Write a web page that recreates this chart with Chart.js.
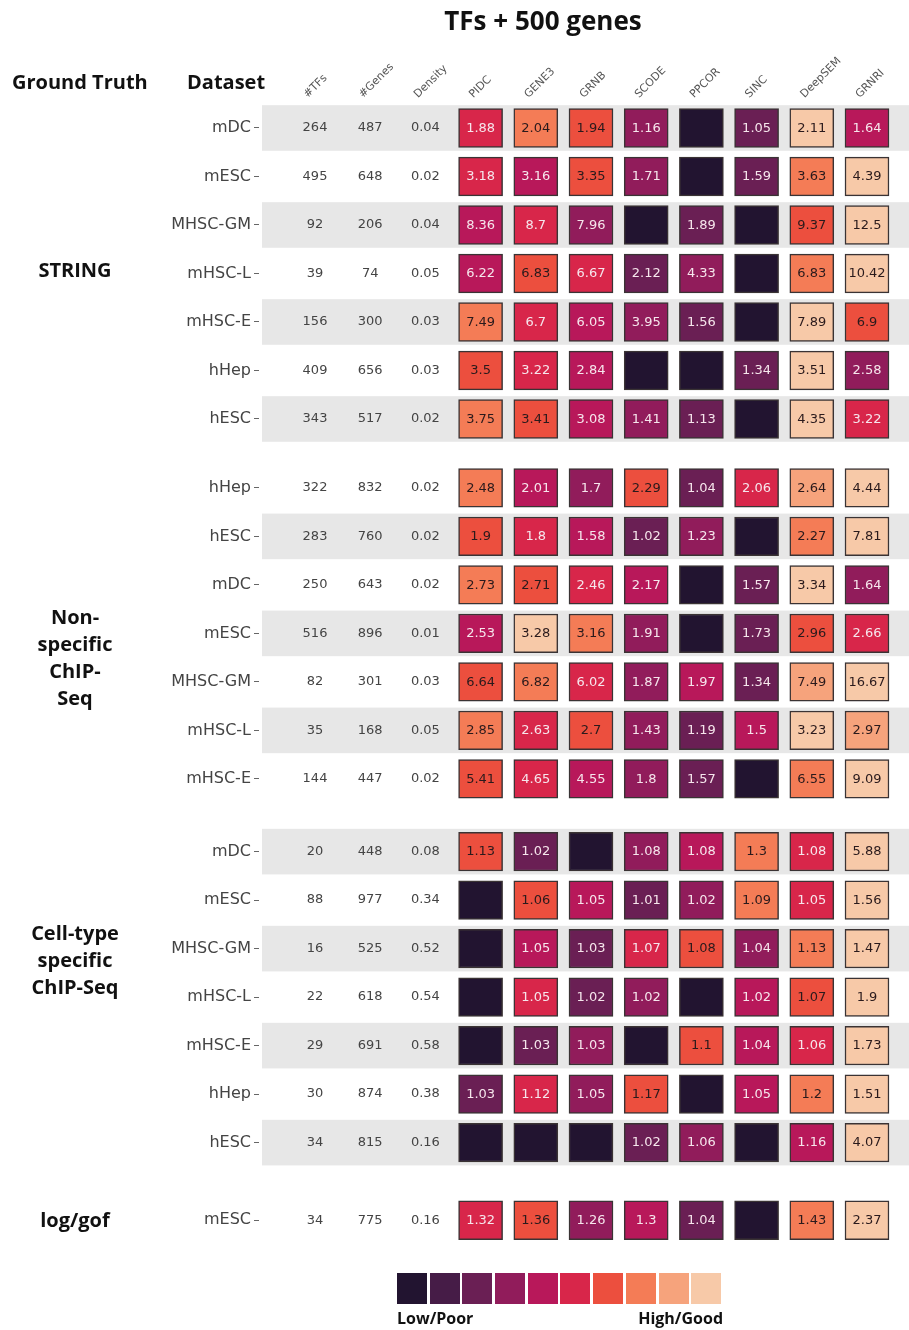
<!DOCTYPE html>
<html>
<head>
<meta charset="utf-8">
<script src="https://cdn.jsdelivr.net/npm/chart.js@4.4.1/dist/chart.umd.min.js"></script>
<style>
html,body{margin:0;padding:0;background:#fff;width:909px;height:1330px;overflow:hidden;}
#wrap{position:absolute;left:0;top:0;width:909px;height:1330px;}
canvas{position:absolute;left:0;top:0;}
.t{position:absolute;font-family:'Open Sans',sans-serif;font-weight:700;color:#111;white-space:nowrap;}
.grp{position:absolute;font-family:'Open Sans',sans-serif;font-weight:700;color:#111;font-size:20px;line-height:27px;text-align:center;width:150px;}
#legend{position:absolute;left:397px;top:1273px;display:flex;gap:2.7px;}
#legend div{width:30px;height:31px;}
</style>
</head>
<body>
<div id="wrap">
<canvas id="c" width="909" height="1330"></canvas>
<div class="t" style="left:393px;width:300px;text-align:center;top:4px;font-size:26px;line-height:32px;">TFs + 500 genes</div>
<div class="t" style="left:12px;top:68px;font-size:20px;line-height:28px;">Ground Truth</div>
<div class="t" style="left:187px;top:68px;font-size:20px;line-height:28px;">Dataset</div>
<div class="grp" style="left:0px;top:256px;">STRING</div>
<div class="grp" style="left:0px;top:603px;">Non-<br>specific<br>ChIP-<br>Seq</div>
<div class="grp" style="left:0px;top:919px;">Cell-type<br>specific<br>ChIP-Seq</div>
<div class="grp" style="left:0px;top:1206px;">log/gof</div>
<div id="legend"></div>
<div class="t" style="left:397px;top:1307px;font-size:16px;line-height:22px;">Low/Poor</div>
<div class="t" style="left:600px;width:123px;text-align:right;top:1307px;font-size:16px;line-height:22px;">High/Good</div>
</div>
<script>
// ---------------- data ----------------
const statCols = ['#TFs', '#Genes', 'Density'];
const methods = ['PIDC', 'GENE3', 'GRNB', 'SCODE', 'PPCOR', 'SINC', 'DeepSEM', 'GRNRI'];
const groups = ['STRING', 'Non-specific ChIP-Seq', 'Cell-type specific ChIP-Seq', 'log/gof'];
const groupSizes = [7, 7, 7, 1];
const datasetNames = [
  'mDC', 'mESC', 'MHSC-GM', 'mHSC-L', 'mHSC-E', 'hHep', 'hESC',
  'hHep', 'hESC', 'mDC', 'mESC', 'MHSC-GM', 'mHSC-L', 'mHSC-E',
  'mDC', 'mESC', 'MHSC-GM', 'mHSC-L', 'mHSC-E', 'hHep', 'hESC',
  'mESC'
];
const nTFs = [264, 495, 92, 39, 156, 409, 343, 322, 283, 250, 516, 82, 35, 144, 20, 88, 16, 22, 29, 30, 34, 34];
const nGenes = [487, 648, 206, 74, 300, 656, 517, 832, 760, 643, 896, 301, 168, 447, 448, 977, 525, 618, 691, 874, 815, 775];
const density = [0.04, 0.02, 0.04, 0.05, 0.03, 0.03, 0.02, 0.02, 0.02, 0.02, 0.01, 0.03, 0.05, 0.02, 0.08, 0.34, 0.52, 0.54, 0.58, 0.38, 0.16, 0.16];

// scores per row, columns in "methods" order (null = no value / black cell)
const scores = [
  [1.88, 2.04, 1.94, 1.16, null, 1.05, 2.11, 1.64],
  [3.18, 3.16, 3.35, 1.71, null, 1.59, 3.63, 4.39],
  [8.36, 8.7, 7.96, null, 1.89, null, 9.37, 12.5],
  [6.22, 6.83, 6.67, 2.12, 4.33, null, 6.83, 10.42],
  [7.49, 6.7, 6.05, 3.95, 1.56, null, 7.89, 6.9],
  [3.5, 3.22, 2.84, null, null, 1.34, 3.51, 2.58],
  [3.75, 3.41, 3.08, 1.41, 1.13, null, 4.35, 3.22],
  [2.48, 2.01, 1.7, 2.29, 1.04, 2.06, 2.64, 4.44],
  [1.9, 1.8, 1.58, 1.02, 1.23, null, 2.27, 7.81],
  [2.73, 2.71, 2.46, 2.17, null, 1.57, 3.34, 1.64],
  [2.53, 3.28, 3.16, 1.91, null, 1.73, 2.96, 2.66],
  [6.64, 6.82, 6.02, 1.87, 1.97, 1.34, 7.49, 16.67],
  [2.85, 2.63, 2.7, 1.43, 1.19, 1.5, 3.23, 2.97],
  [5.41, 4.65, 4.55, 1.8, 1.57, null, 6.55, 9.09],
  [1.13, 1.02, null, 1.08, 1.08, 1.3, 1.08, 5.88],
  [null, 1.06, 1.05, 1.01, 1.02, 1.09, 1.05, 1.56],
  [null, 1.05, 1.03, 1.07, 1.08, 1.04, 1.13, 1.47],
  [null, 1.05, 1.02, 1.02, null, 1.02, 1.07, 1.9],
  [null, 1.03, 1.03, null, 1.1, 1.04, 1.06, 1.73],
  [1.03, 1.12, 1.05, 1.17, null, 1.05, 1.2, 1.51],
  [null, null, null, 1.02, 1.06, null, 1.16, 4.07],
  [1.32, 1.36, 1.26, 1.3, 1.04, null, 1.43, 2.37]
];

// colour class (0 = Low/Poor ... 9 = High/Good) read from each cell
const levels = [
  [5, 7, 6, 3, 0, 2, 9, 4],
  [5, 4, 6, 3, 0, 2, 7, 9],
  [4, 5, 3, 0, 2, 0, 6, 9],
  [4, 6, 5, 2, 3, 0, 7, 9],
  [7, 5, 4, 3, 2, 0, 9, 6],
  [6, 5, 4, 0, 0, 2, 9, 3],
  [7, 6, 4, 3, 2, 0, 9, 5],
  [7, 4, 3, 6, 2, 5, 8, 9],
  [6, 5, 4, 2, 3, 0, 7, 9],
  [7, 6, 5, 4, 0, 2, 9, 3],
  [4, 9, 7, 3, 0, 2, 6, 5],
  [6, 7, 5, 3, 4, 2, 8, 9],
  [7, 5, 6, 3, 2, 4, 9, 8],
  [6, 5, 4, 3, 2, 0, 7, 9],
  [6, 2, 0, 3, 4, 7, 5, 9],
  [0, 6, 4, 2, 3, 7, 5, 9],
  [0, 4, 2, 5, 6, 3, 7, 9],
  [0, 5, 2, 3, 0, 4, 6, 9],
  [0, 2, 3, 0, 6, 4, 5, 9],
  [2, 5, 3, 6, 0, 4, 7, 9],
  [0, 0, 0, 2, 3, 0, 4, 9],
  [5, 6, 3, 4, 2, 0, 7, 9]
];

const palette = ['#221430', '#461c47', '#6a1f54', '#911c5b', '#b8185a', '#d8264a', '#ec4f3e', '#f47c56', '#f6a37c', '#f7c9a8'];

// ---------------- layout helpers ----------------
const groupGap = [0, 0.42, 0.92, 1.52];
const rowPos = [];
{
  let k = 0;
  groupSizes.forEach((n, g) => { for (let j = 0; j < n; j++) { rowPos.push(k + groupGap[g]); k++; } });
}
const headers = statCols.concat(methods);

// legend squares
const lg = document.getElementById('legend');
palette.forEach(c => { const d = document.createElement('div'); d.style.background = c; lg.appendChild(d); });

// ---------------- chart ----------------
const chartDatasets = methods.map((m, mi) => ({
  label: m,
  data: rowPos.map(p => ({ x: mi + statCols.length, y: [p - 0.4, p + 0.4] })),
  backgroundColor: ctx => palette[levels[ctx.dataIndex][mi]],
  borderColor: '#3a3334',
  borderWidth: 1.5,
  borderSkipped: false,
  barThickness: 44,
  grouped: false
}));

const bandPlugin = {
  id: 'bands',
  beforeDatasetsDraw(chart) {
    const { ctx, chartArea, scales: { y } } = chart;
    ctx.save();
    ctx.fillStyle = '#e7e7e7';
    rowPos.forEach((p, i) => {
      if (i % 2 !== 0) return;
      const a = y.getPixelForValue(p - 0.47), b = y.getPixelForValue(p + 0.47);
      ctx.fillRect(chartArea.left + 3, Math.min(a, b), chartArea.right - chartArea.left - 3, Math.abs(b - a));
    });
    ctx.restore();
  }
};

const textPlugin = {
  id: 'cellText',
  afterDatasetsDraw(chart) {
    const { ctx, scales: { x, y } } = chart;
    ctx.save();
    ctx.textAlign = 'center';
    ctx.textBaseline = 'middle';
    ctx.font = '13px "DejaVu Sans"';
    // stat columns
    ctx.fillStyle = '#444';
    rowPos.forEach((p, i) => {
      const py = y.getPixelForValue(p);
      ctx.fillText(String(nTFs[i]), x.getPixelForValue(0), py);
      ctx.fillText(String(nGenes[i]), x.getPixelForValue(1), py);
      ctx.fillText(density[i].toFixed(2), x.getPixelForValue(2), py);
    });
    // cell values
    methods.forEach((m, mi) => {
      const meta = chart.getDatasetMeta(mi);
      meta.data.forEach((el, i) => {
        const v = scores[i][mi];
        if (v === null) return;
        ctx.fillStyle = levels[i][mi] >= 6 ? '#2a1a1c' : '#f6e6ec';
        ctx.fillText(String(v), el.x, (el.y + el.base) / 2 + 0.5);
      });
    });
    ctx.restore();
  }
};

Chart.defaults.font.family = '"DejaVu Sans", sans-serif';

new Chart(document.getElementById('c'), {
  type: 'bar',
  data: { datasets: chartDatasets },
  options: {
    responsive: false,
    animation: false,
    devicePixelRatio: 1,
    layout: { padding: { top: 0, left: 0, right: 0, bottom: 80 } },
    plugins: { legend: { display: false }, title: { display: false }, tooltip: { enabled: false } },
    scales: {
      x: {
        type: 'linear',
        position: 'top',
        offset: false,
        min: -1.0145,
        max: 10.761,
        afterBuildTicks: s => { s.ticks = headers.map((h, i) => ({ value: i })); },
        afterFit: s => { s.height = 100; },
        grid: { display: false },
        border: { display: false },
        ticks: {
          autoSkip: false,
          minRotation: 45,
          maxRotation: 45,
          padding: -9,
          color: '#555',
          font: { size: 11 },
          callback: (v, i) => headers[i]
        }
      },
      y: {
        type: 'linear',
        reverse: true,
        min: -0.577,
        max: 23.134,
        afterBuildTicks: s => { s.ticks = rowPos.map(p => ({ value: p })); },
        afterFit: s => { s.width = 259; },
        grid: { drawOnChartArea: false, drawTicks: true, tickLength: 5, color: '#666', lineWidth: 1 },
        border: { display: false },
        ticks: {
          autoSkip: false,
          padding: 3,
          color: '#444',
          font: { size: 16 },
          callback: (v, i) => datasetNames[i]
        }
      }
    }
  },
  plugins: [bandPlugin, textPlugin]
});
</script>
</body>
</html>
